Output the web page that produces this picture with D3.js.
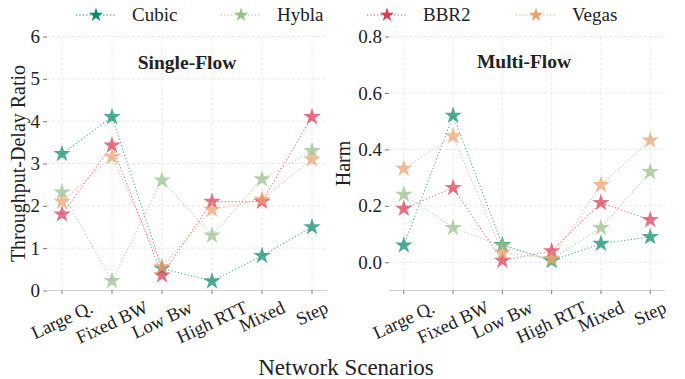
<!DOCTYPE html>
<html>
<head>
<meta charset="utf-8">
<script src="https://cdn.jsdelivr.net/npm/d3@7"></script>
<style>
  body { margin: 0; background: #fff; }
</style>
</head>
<body>
<script>
// categories and series
const scenarios = ["Large Q.", "Fixed BW", "Low Bw", "High RTT", "Mixed", "Step"];
const protocols = ["Cubic", "Hybla", "BBR2", "Vegas"];
const colors = ["#0b8a6e", "#98bf8a", "#dc3a54", "#eda06c"];

// single-flow throughput-delay ratio
const singleCubic = [3.23, 4.1, 0.52, 0.22, 0.82, 1.5];
const singleHybla = [2.32, 0.23, 2.6, 1.3, 2.63, 3.3];
const singleBBR2  = [1.8, 3.43, 0.36, 2.1, 2.1, 4.1];
const singleVegas = [2.1, 3.16, 0.56, 1.91, 2.15, 3.1];

// multi-flow harm
const multiCubic = [0.06, 0.52, 0.062, 0.005, 0.066, 0.09];
const multiHybla = [0.24, 0.122, 0.058, 0.01, 0.122, 0.32];
const multiBBR2  = [0.19, 0.264, 0.006, 0.04, 0.211, 0.15];
const multiVegas = [0.332, 0.447, 0.035, 0.012, 0.274, 0.432];

const singleTicks = [0, 1, 2, 3, 4, 5, 6];
const multiTicks = [0.0, 0.2, 0.4, 0.6, 0.8];

const FONT = "Liberation Serif";
const width = 685, height = 379;
const svg = d3.select("body").append("svg")
  .attr("width", width)
  .attr("height", height)
  .attr("font-family", FONT);

const star = d3.symbol().type(d3.symbolStar);

/**
 * Draws one panel of the figure
 */
function drawPanel(opts) {
  const x = d3.scalePoint().domain(scenarios).range([opts.left, opts.right]).padding(0.3);
  const y = d3.scaleLinear().domain(opts.domain).range([opts.bottom, opts.top]);
  const g = svg.append("g").attr("font-family", FONT);

  // grid: horizontal at ticks, vertical at categories
  g.selectAll(".hgrid").data(opts.ticks).enter().append("line")
    .attr("x1", opts.left).attr("x2", opts.right)
    .attr("y1", d => y(d)).attr("y2", d => y(d))
    .attr("stroke", "#e3e3e3").attr("stroke-width", 0.8)
    .attr("stroke-dasharray", "3,2");
  g.selectAll(".vgrid").data(scenarios).enter().append("line")
    .attr("x1", d => x(d)).attr("x2", d => x(d))
    .attr("y1", opts.bottom).attr("y2", opts.top)
    .attr("stroke", "#e3e3e3").attr("stroke-width", 0.8)
    .attr("stroke-dasharray", "3,2");

  // bottom spine
  g.append("line")
    .attr("x1", opts.left).attr("x2", opts.right)
    .attr("y1", opts.bottom).attr("y2", opts.bottom)
    .attr("stroke", "#cfcfcf").attr("stroke-width", 1);

  // y ticks
  const yAxis = g.append("g")
    .attr("transform", "translate(" + opts.left + ",0)")
    .call(d3.axisLeft(y).tickValues(opts.ticks).tickSize(4).tickPadding(3)
      .tickFormat(opts.fmt));
  yAxis.attr("font-family", FONT);
  yAxis.select(".domain").remove();
  yAxis.selectAll(".tick line").attr("stroke", "#555").attr("stroke-width", 0.8);
  yAxis.selectAll("text").attr("font-size", 19).attr("fill", "#222");

  // x ticks
  g.selectAll(".xtick").data(scenarios).enter().append("line")
    .attr("x1", d => x(d)).attr("x2", d => x(d))
    .attr("y1", opts.bottom).attr("y2", opts.bottom + 3.5)
    .attr("stroke", "#555").attr("stroke-width", 0.8);

  // rotated x labels, bbox centred on the tick like matplotlib
  const ang = 25 * Math.PI / 180;
  g.selectAll(".xlab").data(scenarios).enter().append("text")
    .attr("font-size", 18.5).attr("fill", "#222")
    .attr("text-anchor", "middle").attr("dominant-baseline", "central")
    .text(d => d)
    .each(function(d) {
      const w = this.getComputedTextLength();
      const h = 15;
      const bh = w * Math.sin(ang) + h * Math.cos(ang);
      d3.select(this).attr("transform",
        "translate(" + x(d) + "," + (opts.bottom + 9 + bh / 2) + ") rotate(-25)");
    });

  // series: dotted lines + star markers
  opts.series.forEach(function(vals, i) {
    const pts = scenarios.map((s, j) => [x(s), y(vals[j])]);
    g.append("path")
      .attr("d", d3.line()(pts))
      .attr("fill", "none")
      .attr("stroke", colors[i]).attr("stroke-width", 1.1)
      .attr("stroke-opacity", 0.7)
      .attr("stroke-dasharray", "1.2,2.2");
  });
  opts.series.forEach(function(vals, i) {
    g.selectAll(".m" + i).data(vals).enter().append("path")
      .attr("d", star.size(95)())
      .attr("transform", (d, j) => "translate(" + x(scenarios[j]) + "," + y(d) + ")")
      .attr("fill", colors[i]).attr("fill-opacity", 0.72);
  });

  // panel title
  g.append("text")
    .attr("x", (opts.left + opts.right) / 2 + opts.titleDx).attr("y", opts.titleY)
    .attr("text-anchor", "middle").attr("font-weight", "bold")
    .attr("font-size", 19.5).attr("fill", "#222")
    .text(opts.title);

  // y label
  g.append("text")
    .attr("transform", "translate(" + opts.ylabX + "," + ((opts.top + opts.bottom) / 2) + ") rotate(-90)")
    .attr("text-anchor", "middle").attr("dominant-baseline", "central")
    .attr("font-size", 20).attr("fill", "#222")
    .text(opts.ylabel);
}

drawPanel({
  left: 47, right: 327, top: 36.5, bottom: 290.5,
  domain: [0, 6], ticks: singleTicks, fmt: d3.format("d"),
  series: [singleCubic, singleHybla, singleBBR2, singleVegas],
  title: "Single-Flow", titleDx: 0, titleY: 69,
  ylabel: "Throughput-Delay Ratio", ylabX: 18
});

drawPanel({
  left: 389, right: 665, top: 36.5, bottom: 290.5,
  domain: [-0.1, 0.8], ticks: multiTicks, fmt: d3.format(".1f"),
  series: [multiCubic, multiHybla, multiBBR2, multiVegas],
  title: "Multi-Flow", titleDx: -3, titleY: 68,
  ylabel: "Harm", ylabX: 343
});

// common x label
svg.append("text")
  .attr("x", 346).attr("y", 375)
  .attr("text-anchor", "middle")
  .attr("font-size", 23).attr("fill", "#222")
  .text("Network Scenarios");

// legend
const legendX = [96, 241, 387, 536];
const leg = svg.append("g").attr("font-family", FONT);
protocols.forEach(function(name, i) {
  leg.append("line")
    .attr("x1", legendX[i] - 20).attr("x2", legendX[i] + 20)
    .attr("y1", 15).attr("y2", 15)
    .attr("stroke", colors[i]).attr("stroke-width", 1.1)
    .attr("stroke-dasharray", "1.2,2.2");
  leg.append("path")
    .attr("d", star.size(62)())
    .attr("transform", "translate(" + legendX[i] + ",15)")
    .attr("fill", colors[i]);
  leg.append("text")
    .attr("x", legendX[i] + 36).attr("y", 21)
    .attr("font-size", 19).attr("fill", "#222")
    .text(name);
});
</script>
</body>
</html>
